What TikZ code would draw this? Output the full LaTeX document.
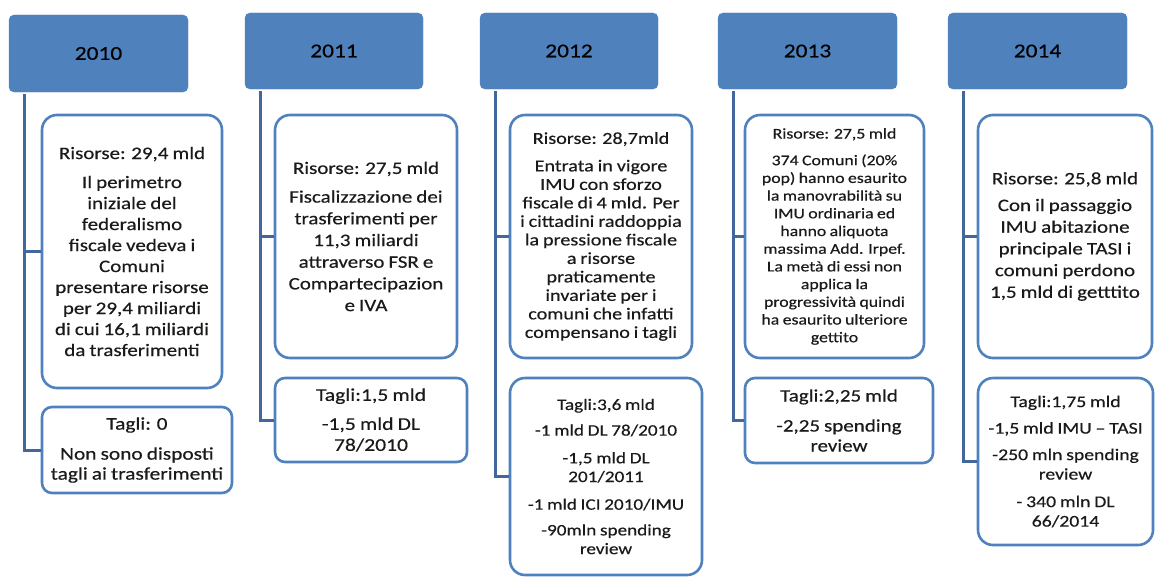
\documentclass[tikz,border=0pt]{standalone}
\usepackage{fontspec}
\setmainfont{Carlito}[FakeStretch=1.2, FakeBold=0.4, WordSpace=0.85]
\definecolor{hdr}{HTML}{4F81BD}
\definecolor{bord}{HTML}{4F81BD}
\definecolor{linkc}{HTML}{41679C}
\definecolor{txt}{HTML}{1A1A1A}
\begin{document}
\begin{tikzpicture}[x=1pt,y=-1pt,
  hdrbox/.style={fill=hdr, draw=hdr, rounded corners=5pt, inner sep=0pt,
    font=\fontsize{19.5}{23}\selectfont, text=black},
  bigbox/.style={draw=bord, line width=2.6pt, fill=white, rounded corners=15pt,
    align=center, inner sep=0pt, text=txt},
  smallbox/.style={bigbox, rounded corners=10pt},
  link/.style={draw=linkc, line width=3pt}]
\useasboundingbox (0,0) rectangle (1155,578);

% headers
\node[hdrbox, minimum width=179pt, minimum height=77pt] (h0) at (98.5,53.5) {2010};
\node[hdrbox, minimum width=178pt, minimum height=76pt] (h1) at (334,51) {2011};
\node[hdrbox, minimum width=178pt, minimum height=76pt] (h2) at (569,51) {2012};
\node[hdrbox, minimum width=179pt, minimum height=76pt] (h3) at (807.5,51) {2013};
\node[hdrbox, minimum width=179pt, minimum height=76pt] (h4) at (1037.5,51) {2014};

% 2010
\node[bigbox, minimum width=180pt, minimum height=273pt,
  font=\fontsize{17.5}{21}\selectfont] (a0) at (132,251.5)
  {Risorse: 29,4 mld\\[8pt]
   Il perimetro\\ iniziale del\\ federalismo\\ fiscale vedeva i\\ Comuni\\
   presentare risorse\\ per 29,4 miliardi\\ di cui 16,1 miliardi\\ da trasferimenti};
\node[smallbox, minimum width=190pt, minimum height=86pt,
  font=\fontsize{17.8}{20}\selectfont] (b0) at (137,450)
  {Tagli: 0\\[10pt] Non sono disposti\\ tagli ai trasferimenti};

% 2011
\node[bigbox, minimum width=182pt, minimum height=243pt,
  font=\fontsize{17.5}{21.7}\selectfont] (a1) at (366,236.5)
  {Risorse: 27,5 mld\\[7pt]
   Fiscalizzazione dei\\ trasferimenti per\\ 11,3 miliardi\\ attraverso FSR e\\
   Compartecipazion\\ e IVA};
\node[smallbox, minimum width=192pt, minimum height=84pt,
  font=\fontsize{18}{21}\selectfont] (b1) at (371,420)
  {Tagli:1,5 mld\\[8pt] -1,5 mld DL\\ 78/2010};

% 2012
\node[bigbox, minimum width=182pt, minimum height=243pt,
  font=\fontsize{16.8}{18.5}\selectfont] (a2) at (601,236.5)
  {Risorse: 28,7mld\\[9pt]
   Entrata in vigore\\ IMU con sforzo\\ fiscale di 4 mld. Per\\ i cittadini raddoppia\\
   la pressione fiscale\\ a risorse\\ praticamente\\ invariate per i\\
   comuni che infatti\\ compensano i tagli};
\node[bigbox, minimum width=192pt, minimum height=197pt,
  font=\fontsize{16}{18.7}\selectfont] (b2) at (606,476.5)
  {Tagli:3,6 mld\\[7pt] -1 mld DL 78/2010\\[9pt] -1,5 mld DL\\ 201/2011\\[9pt]
   -1 mld ICI 2010/IMU\\[7pt] -90mln spending\\ review};

% 2013
\node[bigbox, minimum width=179pt, minimum height=243pt,
  font=\fontsize{14.8}{17.7}\selectfont] (a3) at (834.5,236.5)
  {Risorse: 27,5 mld\\[9pt]
   374 Comuni (20\%\\ pop) hanno esaurito\\ la manovrabilità su\\ IMU ordinaria ed\\
   hanno aliquota\\ massima Add. Irpef.\\ La metà di essi non\\ applica la\\
   progressività quindi\\ ha esaurito ulteriore\\ gettito};
\node[smallbox, minimum width=188pt, minimum height=85pt,
  font=\fontsize{17.5}{20}\selectfont] (b3) at (839,420.5)
  {Tagli:2,25 mld\\[10pt] -2,25 spending\\ review};

% 2014
\node[bigbox, minimum width=174pt, minimum height=243pt,
  font=\fontsize{17.5}{21.7}\selectfont] (a4) at (1065,236.5)
  {Risorse: 25,8 mld\\[5pt]
   Con il passaggio\\ IMU abitazione\\ principale TASI i\\ comuni perdono\\
   1,5 mld di getttito};
\node[bigbox, minimum width=175pt, minimum height=167pt,
  font=\fontsize{16.4}{19.5}\selectfont] (b4) at (1065.5,461.5)
  {Tagli:1,75 mld\\[7pt] -1,5 mld IMU -- TASI\\[7pt] -250 mln spending\\ review\\[8pt]
   - 340 mln DL\\ 66/2014};

% connectors
\foreach \h/\a/\b in {h0/a0/b0, h1/a1/b1, h2/a2/b2, h3/a3/b3, h4/a4/b4}{
  \draw[link] ([xshift=16pt,yshift=-2pt]\h.south west) |- (\a.west);
  \draw[link] ([xshift=16pt,yshift=-2pt]\h.south west) |- (\b.west);
}
\end{tikzpicture}
\end{document}
